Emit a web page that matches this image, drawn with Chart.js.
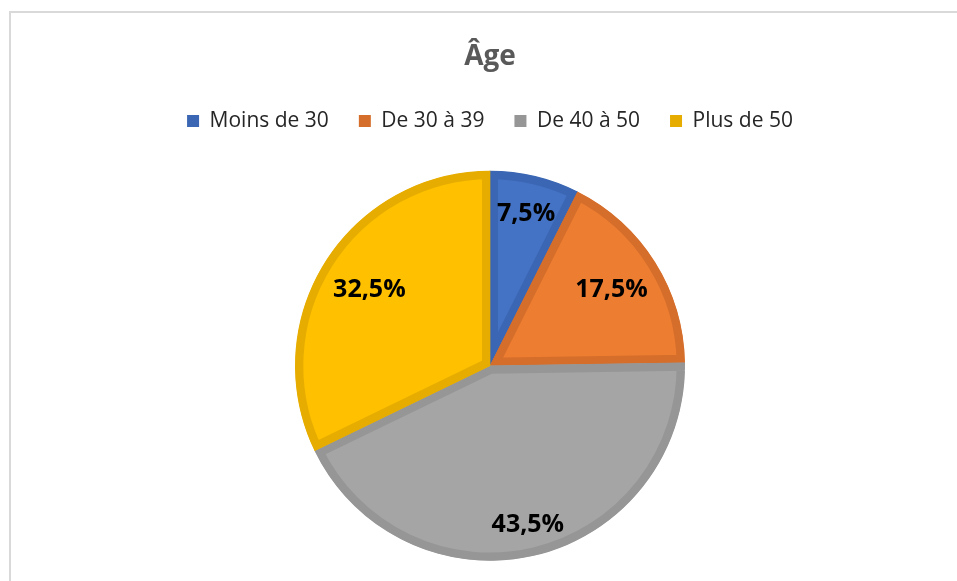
<!DOCTYPE html>
<html lang="fr">
<head>
<meta charset="utf-8">
<title>Âge</title>
<script src="https://cdn.jsdelivr.net/npm/chart.js@4.4.1/dist/chart.umd.min.js"></script>
<style>
  html, body { margin: 0; padding: 0; background: #fff; overflow: hidden; }
  body { width: 957px; height: 581px; position: relative; }
  .frame {
    position: absolute; left: 9px; top: 11px; width: 1000px; height: 1000px;
    border-left: 2px solid #d9d9d9; border-top: 2px solid #d9d9d9;
  }
  .wrap { position: absolute; left: 10px; top: 12px; width: 960px; height: 580px; }
</style>
</head>
<body>
<div class="frame"></div>
<div class="wrap"><canvas id="ageChart"></canvas></div>
<script>
// Data
const categories = ["Moins de 30", "De 30 à 39", "De 40 à 50", "Plus de 50"];
const values = [7.5, 17.5, 43.5, 32.5];

// Styles
const fillColors = ["#4472C4", "#ED7D31", "#A5A5A5", "#FFC000"];
const edgeColors = ["#3B66B3", "#D56E2B", "#969696", "#E6AD00"];
const labelRadius = [0.8, 0.735, 0.84, 0.73];

/**
 * Draw the percentage labels inside the slices
 */
const sliceLabels = {
  id: "sliceLabels",
  afterDatasetsDraw(chart) {
    const ctx = chart.ctx;
    const arcs = chart.getDatasetMeta(0).data;
    ctx.save();
    ctx.font = "bold 25px 'Open Sans'";
    ctx.fillStyle = "#000";
    ctx.textAlign = "center";
    ctx.textBaseline = "middle";
    arcs.forEach((arc, i) => {
      const mid = (arc.startAngle + arc.endAngle) / 2;
      const r = arc.outerRadius * labelRadius[i];
      const x = arc.x + Math.cos(mid) * r;
      const y = arc.y + Math.sin(mid) * r;
      ctx.fillText(values[i].toFixed(1).replace(".", ",") + "%", x, y);
    });
    ctx.restore();
  },
};

new Chart(document.getElementById("ageChart"), {
  type: "pie",
  data: {
    labels: categories,
    datasets: [
      {
        data: values,
        backgroundColor: fillColors,
        borderColor: edgeColors,
        borderWidth: 8,
        borderAlign: "inner",
        borderJoinStyle: "miter",
        radius: 195,
      },
    ],
  },
  options: {
    responsive: true,
    maintainAspectRatio: false,
    animation: false,
    layout: { padding: { bottom: 2 } },
    plugins: {
      tooltip: { enabled: false },
      title: {
        display: true,
        text: "Âge",
        color: "#595959",
        font: { family: "'Open Sans'", size: 28, weight: "bold" },
        padding: { top: 28, bottom: 7 },
      },
      legend: {
        position: "top",
        labels: {
          color: "#262626",
          font: { family: "'Open Sans'", size: 21 },
          boxWidth: 12,
          boxHeight: 12,
          padding: 30,
          generateLabels(chart) {
            return Chart.overrides.pie.plugins.legend.labels
              .generateLabels(chart)
              .map((item, i) => ({
                ...item,
                fillStyle: edgeColors[i],
                strokeStyle: edgeColors[i],
                lineWidth: 0,
              }));
          },
        },
      },
    },
  },
  plugins: [sliceLabels],
});
</script>
</body>
</html>
